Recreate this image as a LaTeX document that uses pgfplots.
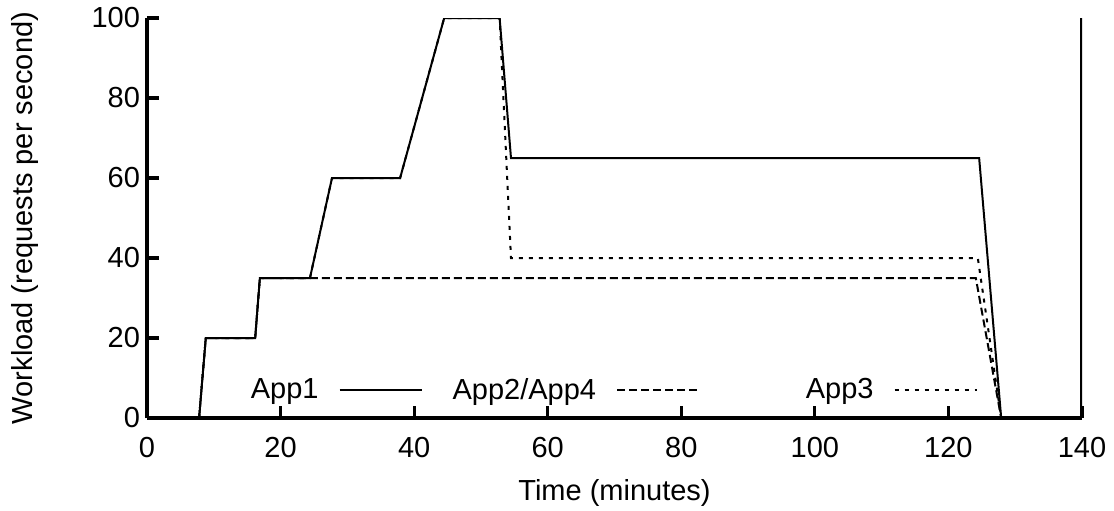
\documentclass[border=0pt]{standalone}
\usepackage{fontspec}
\setmainfont{Liberation Sans}
\usepackage{pgfplots}
\pgfplotsset{compat=1.18}
\begin{document}
\begin{tikzpicture}[font=\fontsize{14.5}{17}\selectfont]
\begin{axis}[
  scale only axis,
  width=467.5pt, height=200pt,
  xmin=0, xmax=140, ymin=0, ymax=100,
  xtick={0,20,...,140}, ytick={0,20,...,100},
  axis x line*=bottom, axis y line*=left,
  axis line style={line width=1.8pt},
  tick align=inside,
  major tick length=6pt,
  every tick/.style={black, line width=1.6pt},
  /pgf/number format/assume math mode=true,
  tick label style={font=\fontsize{14.5}{17}\selectfont},
  xticklabel style={yshift=-6pt},
  label style={font=\fontsize{14.5}{17}\selectfont},
  xlabel={Time (minutes)},
  ylabel={Workload (requests per second)},
  every axis x label/.style={at={(axis description cs:0.5,-0.1875)}, anchor=center},
  every axis y label/.style={at={(axis description cs:-0.1310,0.5)}, anchor=center, rotate=90},
  legend columns=3,
  legend plot pos=right,
  legend image code/.code={\draw[#1] (0pt,0pt) -- (41pt,0pt);},
  legend style={draw=none, fill=none, font=\fontsize{14.5}{17}\selectfont,
    at={(axis description cs:0.457,0.07)}, anchor=center,
    /tikz/every odd column/.append style={column sep=8pt},
    /tikz/every even column/.append style={column sep=13pt}},
]
\addplot[black, line width=1pt] coordinates {
(7.8,0)(8.8,20)(16.2,20)(16.9,35)(24.4,35)(27.7,60)(37.9,60)(44.5,100)(52.8,100)(54.5,65)(124.6,65)(127.9,0)};
\addlegendentry{\hphantom{App2/App4}\llap{App1}}
\addplot[black, line width=1pt, dash pattern=on 4pt off 2pt] coordinates {
(7.8,0)(8.8,20)(16.2,20)(16.9,35)(124.1,35)(127.9,0)};
\addlegendentry{App2/App4}
\addplot[black, line width=1pt, dash pattern=on 2pt off 3pt] coordinates {
(7.8,0)(8.8,20)(16.2,20)(16.9,35)(24.4,35)(27.7,60)(37.9,60)(44.5,100)(52.8,100)(54.5,40)(124.4,40)(127.9,0)};
\addlegendentry{\hphantom{App2/App4}\llap{App3}}
\draw[line width=1.8pt] (rel axis cs:1,0) -- (rel axis cs:1,1);
\end{axis}
\pgfresetboundingbox
\path (-73.5pt,-46pt) rectangle (483.5pt,209pt);
\end{tikzpicture}
\end{document}
